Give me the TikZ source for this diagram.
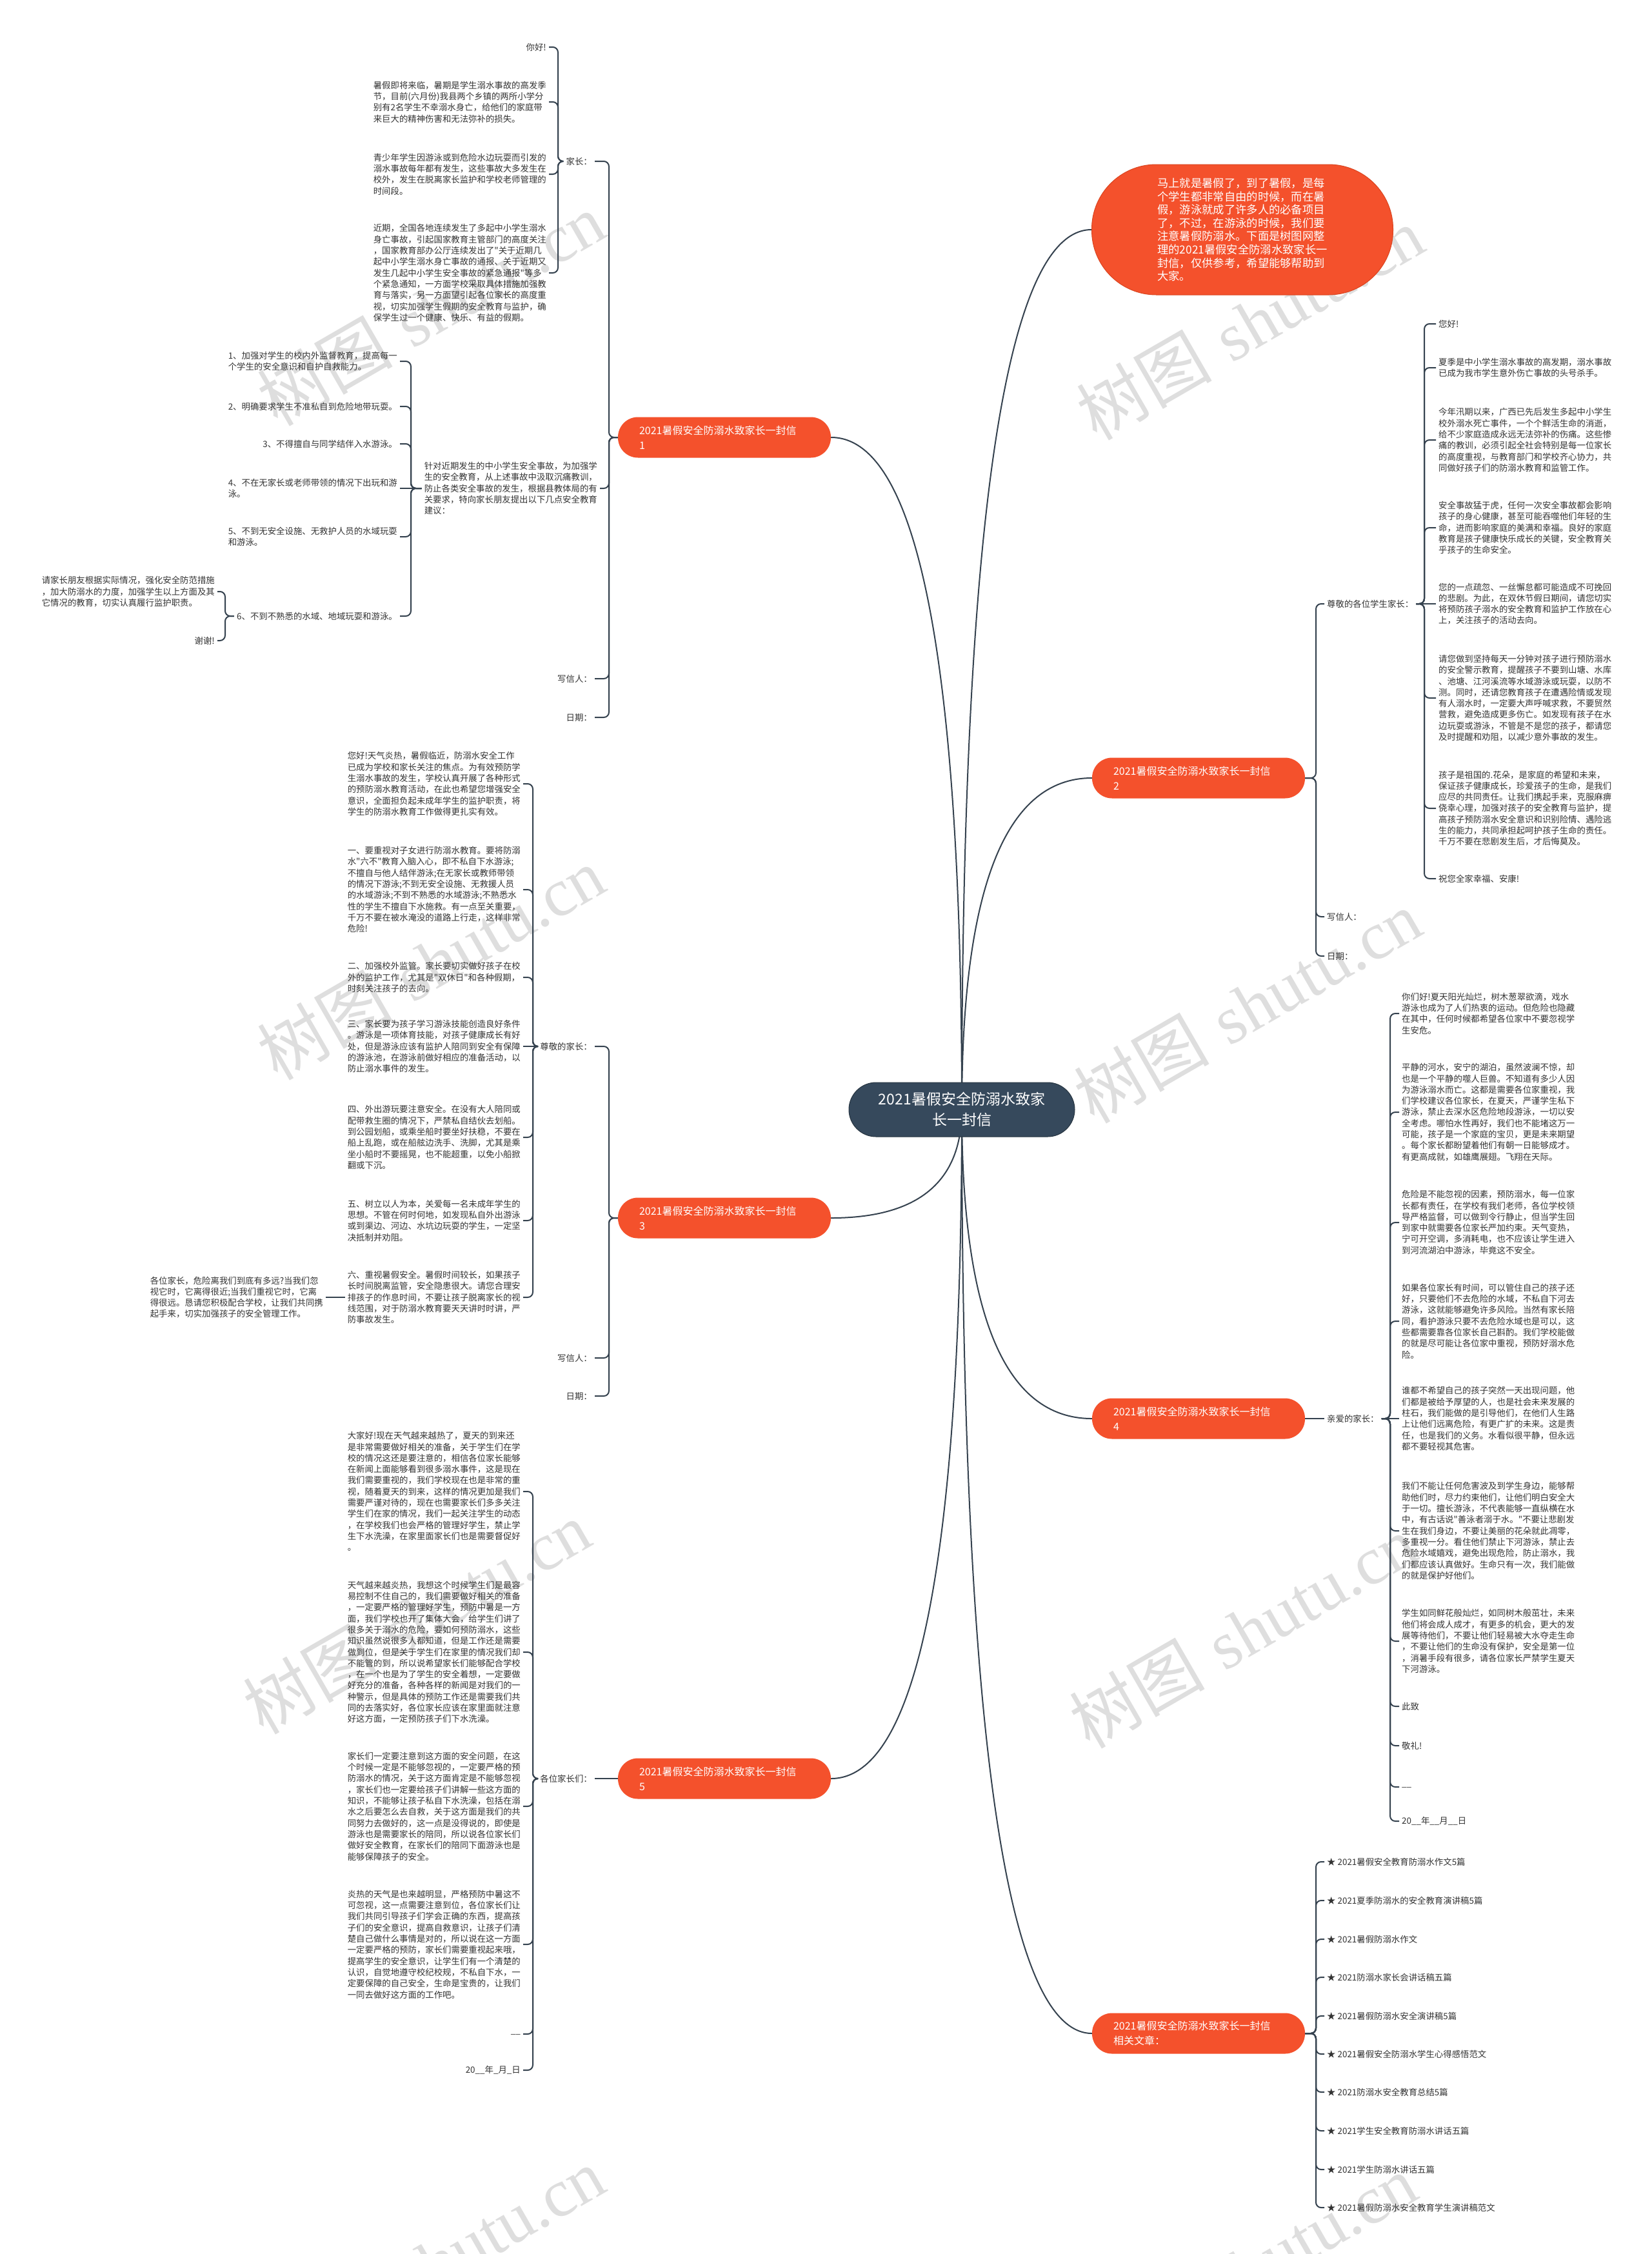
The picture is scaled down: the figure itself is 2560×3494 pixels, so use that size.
\documentclass[tikz,border=0pt]{standalone}
\usepackage{fontspec}
\newfontfamily\cjk{Noto Sans CJK SC}
\newfontfamily\wmserif{Liberation Serif}
\usetikzlibrary{backgrounds}
\definecolor{redc}{HTML}{F4512C}
\definecolor{redline}{HTML}{D9441F}
\definecolor{darkc}{HTML}{36495C}
\definecolor{darkline}{HTML}{25333F}
\definecolor{linec}{HTML}{35424F}
\definecolor{textc}{HTML}{333333}
\definecolor{wmc}{HTML}{DEDEDE}
\newcommand\fbody{\cjk\fontsize{13.4pt}{17.3pt}\selectfont}
\newcommand\brlink[3]{\draw[conn] (#1) -- (#2 |- #1) -- (#2 |- #3) -- (#3);}
\tikzset{
  txt/.style={font=\fbody, text=textc, align=left, inner ysep=0pt, inner xsep=4pt},
  conn/.style={draw=linec, line width=2pt, rounded corners=8pt},
  mainc/.style={draw=linec, line width=2pt},
  branch/.style={fill=redc, text=white, rounded corners=31pt, font={\cjk\fontsize{16pt}{23pt}\selectfont}, align=left, text width=264pt, inner xsep=33pt, inner ysep=8pt, minimum height=63pt},
  centerbox/.style={fill=darkc, draw=darkline, line width=1pt, text=white, rounded corners=42pt, minimum width=350pt, minimum height=84pt, align=center, font={\cjk\fontsize{23pt}{32pt}\selectfont}},
  bubble/.style={fill=redc, draw=redline, line width=1pt, text=white, rounded corners=100pt, minimum width=467pt, minimum height=202pt, align=left, font={\cjk\fontsize{17.3pt}{20.6pt}\selectfont}},
  wm/.style={text=wmc, rotate=30, inner sep=0pt, font={\fontsize{105pt}{105pt}\selectfont}}
}
\begin{document}
\begin{tikzpicture}[x=1pt,y=-1pt]
\useasboundingbox (0,0) rectangle (2560,3494);

% ---------- centre, intro and branches ----------
\node[centerbox] (c) at (1491,1720) {2021暑假安全防溺水致家\\长一封信};
\node[bubble] (bub) at (1926,356) {马上就是暑假了，到了暑假，是每\\个学生都非常自由的时候，而在暑\\假，游泳就成了许多人的必备项目\\了，不过，在游泳的时候，我们要\\注意暑假防溺水。下面是树图网整\\理的2021暑假安全防溺水致家长一\\封信，仅供参考，希望能够帮助到\\大家。};
\node[branch] (b1) at (1123,678) {2021暑假安全防溺水致家长一封信\\1};
\node[branch] (b2) at (1858,1206) {2021暑假安全防溺水致家长一封信\\2};
\node[branch] (b3) at (1123,1888) {2021暑假安全防溺水致家长一封信\\3};
\node[branch] (b4) at (1858,2199) {2021暑假安全防溺水致家长一封信\\4};
\node[branch] (b5) at (1123,2757) {2021暑假安全防溺水致家长一封信\\5};
\node[branch] (b6) at (1858,3152) {2021暑假安全防溺水致家长一封信\\相关文章：};

% ---------- branch 1 ----------
\coordinate (k1) at (944,0);
\coordinate (k1a) at (865,0);
\coordinate (k1b) at (637,0);
\coordinate (k1c) at (349,0);
\node[txt,anchor=east] (n1a) at (922,250) {家长：};
\node[txt,anchor=east] (n1b) at (930,757) {针对近期发生的中小学生安全事故，为加强学\\生的安全教育，从上述事故中汲取沉痛教训，\\防止各类安全事故的发生，根据县教体局的有\\关要求，特向家长朋友提出以下几点安全教育\\建议：};
\node[txt,anchor=east] (n1c) at (922,1052) {写信人：};
\node[txt,anchor=east] (n1d) at (922,1112) {日期：};
\node[txt,anchor=east] (n1a1) at (851,73) {你好!};
\node[txt,anchor=east] (n1a2) at (851,158) {暑假即将来临，暑期是学生溺水事故的高发季\\节，目前(六月份)我县两个乡镇的两所小学分\\别有2名学生不幸溺水身亡，给他们的家庭带\\来巨大的精神伤害和无法弥补的损失。};
\node[txt,anchor=east] (n1a3) at (851,270) {青少年学生因游泳或到危险水边玩耍而引发的\\溺水事故每年都有发生，这些事故大多发生在\\校外，发生在脱离家长监护和学校老师管理的\\时间段。};
\node[txt,anchor=east] (n1a4) at (851,423) {近期，全国各地连续发生了多起中小学生溺水\\身亡事故，引起国家教育主管部门的高度关注\\，国家教育部办公厅连续发出了"关于近期几\\起中小学生溺水身亡事故的通报、关于近期又\\发生几起中小学生安全事故的紧急通报"等多\\个紧急通知，一方面学校采取具体措施加强教\\育与落实，另一方面望引起各位家长的高度重\\视，切实加强学生假期的安全教育与监护，确\\保学生过一个健康、快乐、有益的假期。};
\node[txt,anchor=east] (i1) at (620,560) {1、加强对学生的校内外监督教育，提高每一\\个学生的安全意识和自护自救能力。};
\node[txt,anchor=east] (i2) at (620,630) {2、明确要求学生不准私自到危险地带玩耍。};
\node[txt,anchor=east] (i3) at (620,688) {3、不得擅自与同学结伴入水游泳。};
\node[txt,anchor=east] (i4) at (620,757) {4、不在无家长或老师带领的情况下出玩和游\\泳。};
\node[txt,anchor=east] (i5) at (620,832) {5、不到无安全设施、无救护人员的水域玩耍\\和游泳。};
\node[txt,anchor=east] (i6) at (620,955) {6、不到不熟悉的水域、地域玩耍和游泳。};
\node[txt,anchor=east] (j1) at (337,917) {请家长朋友根据实际情况，强化安全防范措施\\，加大防溺水的力度，加强学生以上方面及其\\它情况的教育，切实认真履行监护职责。};
\node[txt,anchor=east] (j2) at (337,993) {谢谢!};

% ---------- branch 3 ----------
\coordinate (k3) at (944,0);
\coordinate (k3a) at (826,0);
\node[txt,anchor=east] (n3a) at (922,1622) {尊敬的家长：};
\node[txt,anchor=east] (n3b) at (922,2105) {写信人：};
\node[txt,anchor=east] (n3c) at (922,2164) {日期：};
\node[txt,anchor=east] (p1) at (811,1215) {您好!天气炎热，暑假临近，防溺水安全工作\\已成为学校和家长关注的焦点。为有效预防学\\生溺水事故的发生，学校认真开展了各种形式\\的预防溺水教育活动，在此也希望您增强安全\\意识，全面担负起未成年学生的监护职责，将\\学生的防溺水教育工作做得更扎实有效。};
\node[txt,anchor=east] (p2) at (811,1379) {一、要重视对子女进行防溺水教育。要将防溺\\水"六不"教育入脑入心，即不私自下水游泳;\\不擅自与他人结伴游泳;在无家长或教师带领\\的情况下游泳;不到无安全设施、无救援人员\\的水域游泳;不到不熟悉的水域游泳;不熟悉水\\性的学生不擅自下水施救。有一点至关重要，\\千万不要在被水淹没的道路上行走，这样非常\\危险!};
\node[txt,anchor=east] (p3) at (811,1515) {二、加强校外监管。家长要切实做好孩子在校\\外的监护工作，尤其是"双休日"和各种假期，\\时刻关注孩子的去向。};
\node[txt,anchor=east] (p4) at (811,1622) {三、家长要为孩子学习游泳技能创造良好条件\\。游泳是一项体育技能，对孩子健康成长有好\\处，但是游泳应该有监护人陪同到安全有保障\\的游泳池，在游泳前做好相应的准备活动，以\\防止溺水事件的发生。};
\node[txt,anchor=east] (p5) at (811,1763) {四、外出游玩要注意安全。在没有大人陪同或\\配带救生圈的情况下，严禁私自结伙去划船。\\到公园划船，或乘坐船时要坐好扶稳，不要在\\船上乱跑，或在船舷边洗手、洗脚，尤其是乘\\坐小船时不要摇晃，也不能超重，以免小船掀\\翻或下沉。};
\node[txt,anchor=east] (p6) at (811,1892) {五、树立以人为本，关爱每一名未成年学生的\\思想。不管在何时何地，如发现私自外出游泳\\或到渠边、河边、水坑边玩耍的学生，一定坚\\决抵制并劝阻。};
\node[txt,anchor=east] (p7) at (811,2011) {六、重视暑假安全。暑假时间较长，如果孩子\\长时间脱离监管，安全隐患很大。请您合理安\\排孩子的作息时间，不要让孩子脱离家长的视\\线范围，对于防溺水教育要天天讲时时讲，严\\防事故发生。};
\node[txt,anchor=east] (q1) at (505,2011) {各位家长，危险离我们到底有多远?当我们忽\\视它时，它离得很近;当我们重视它时，它离\\得很远。恳请您积极配合学校，让我们共同携\\起手来，切实加强孩子的安全管理工作。};

% ---------- branch 5 ----------
\coordinate (k5a) at (826,0);
\node[txt,anchor=east] (n5a) at (922,2757) {各位家长们：};
\node[txt,anchor=east] (r1) at (811,2312) {大家好!现在天气越来越热了，夏天的到来还\\是非常需要做好相关的准备，关于学生们在学\\校的情况这还是要注意的，相信各位家长能够\\在新闻上面能够看到很多溺水事件，这是现在\\我们需要重视的，我们学校现在也是非常的重\\视，随着夏天的到来，这样的情况更加是我们\\需要严谨对待的，现在也需要家长们多多关注\\学生们在家的情况，我们一起关注学生的动态\\，在学校我们也会严格的管理好学生，禁止学\\生下水洗澡，在家里面家长们也是需要督促好\\。};
\node[txt,anchor=east] (r2) at (811,2561) {天气越来越炎热，我想这个时候学生们是最容\\易控制不住自己的，我们需要做好相关的准备\\，一定要严格的管理好学生，预防中暑是一方\\面，我们学校也开了集体大会，给学生们讲了\\很多关于溺水的危险，要如何预防溺水，这些\\知识虽然说很多人都知道，但是工作还是需要\\做到位，但是关于学生们在家里的情况我们却\\不能管的到，所以说希望家长们能够配合学校\\，在一个也是为了学生的安全着想，一定要做\\好充分的准备，各种各样的新闻是对我们的一\\种警示，但是具体的预防工作还是需要我们共\\同的去落实好，各位家长应该在家里面就注意\\好这方面，一定预防孩子们下水洗澡。};
\node[txt,anchor=east] (r3) at (811,2800) {家长们一定要注意到这方面的安全问题，在这\\个时候一定是不能够忽视的，一定要严格的预\\防溺水的情况，关于这方面肯定是不能够忽视\\，家长们也一定要给孩子们讲解一些这方面的\\知识，不能够让孩子私自下水洗澡，包括在溺\\水之后要怎么去自救，关于这方面是我们的共\\同努力去做好的，这一点是没得说的，即使是\\游泳也是需要家长的陪同，所以说各位家长们\\做好安全教育，在家长们的陪同下面游泳也是\\能够保障孩子的安全。};
\node[txt,anchor=east] (r4) at (811,3014) {炎热的天气是也来越明显，严格预防中暑这不\\可忽视，这一点需要注意到位，各位家长们让\\我们共同引导孩子们学会正确的东西，提高孩\\子们的安全意识，提高自救意识，让孩子们清\\楚自己做什么事情是对的，所以说在这一方面\\一定要严格的预防，家长们需要重视起来哦，\\提高学生的安全意识，让学生们有一个清楚的\\认识，自觉地遵守校纪校规，不私自下水，一\\定要保障的自己安全，生命是宝贵的，让我们\\一同去做好这方面的工作吧。};
\node[txt,anchor=east] (r5) at (811,3153) {\_\_};
\node[txt,anchor=east] (r6) at (811,3209) {20\_\_年\_月\_日};

% ---------- branch 2 ----------
\coordinate (k2) at (2040,0);
\coordinate (k2a) at (2208,0);
\node[txt,anchor=west] (m1) at (2053,936) {尊敬的各位学生家长：};
\node[txt,anchor=west] (m2) at (2053,1421) {写信人：};
\node[txt,anchor=west] (m3) at (2053,1482) {日期：};
\node[txt,anchor=west] (s1) at (2226,502) {您好!};
\node[txt,anchor=west] (s2) at (2226,570) {夏季是中小学生溺水事故的高发期，溺水事故\\已成为我市学生意外伤亡事故的头号杀手。};
\node[txt,anchor=west] (s3) at (2226,682) {今年汛期以来，广西已先后发生多起中小学生\\校外溺水死亡事件，一个个鲜活生命的消逝，\\给不少家庭造成永远无法弥补的伤痛。这些惨\\痛的教训，必须引起全社会特别是每一位家长\\的高度重视，与教育部门和学校齐心协力，共\\同做好孩子们的防溺水教育和监管工作。};
\node[txt,anchor=west] (s4) at (2226,818) {安全事故猛于虎，任何一次安全事故都会影响\\孩子的身心健康，甚至可能吞噬他们年轻的生\\命，进而影响家庭的美满和幸福。良好的家庭\\教育是孩子健康快乐成长的关键，安全教育关\\乎孩子的生命安全。};
\node[txt,anchor=west] (s5) at (2226,936) {您的一点疏忽、一丝懈怠都可能造成不可挽回\\的悲剧。为此，在双休节假日期间，请您切实\\将预防孩子溺水的安全教育和监护工作放在心\\上，关注孩子的活动去向。};
\node[txt,anchor=west] (s6) at (2226,1082) {请您做到坚持每天一分钟对孩子进行预防溺水\\的安全警示教育，提醒孩子不要到山塘、水库\\、池塘、江河溪流等水域游泳或玩耍，以防不\\测。同时，还请您教育孩子在遭遇险情或发现\\有人溺水时，一定要大声呼喊求救，不要贸然\\营救，避免造成更多伤亡。如发现有孩子在水\\边玩耍或游泳，不管是不是您的孩子，都请您\\及时提醒和劝阻，以减少意外事故的发生。};
\node[txt,anchor=west] (s7) at (2226,1253) {孩子是祖国的.花朵，是家庭的希望和未来，\\保证孩子健康成长，珍爱孩子的生命，是我们\\应尽的共同责任。让我们携起手来，克服麻痹\\侥幸心理，加强对孩子的安全教育与监护，提\\高孩子预防溺水安全意识和识别险情、遇险逃\\生的能力，共同承担起呵护孩子生命的责任。\\千万不要在悲剧发生后，才后悔莫及。};
\node[txt,anchor=west] (s8) at (2226,1362) {祝您全家幸福、安康!};

% ---------- branch 4 ----------
\coordinate (k4a) at (2155,0);
\node[txt,anchor=west] (n4a) at (2053,2199) {亲爱的家长：};
\node[txt,anchor=west] (t1) at (2169,1571) {你们好!夏天阳光灿烂，树木葱翠欲滴，戏水\\游泳也成为了人们热衷的运动。但危险也隐藏\\在其中，任何时候都希望各位家中不要忽视学\\生安危。};
\node[txt,anchor=west] (t2) at (2169,1724) {平静的河水，安宁的湖泊，虽然波澜不惊，却\\也是一个平静的噬人巨兽。不知道有多少人因\\为游泳溺水而亡。这都是需要各位家重视，我\\们学校建议各位家长，在夏天，严谨学生私下\\游泳，禁止去深水区危险地段游泳，一切以安\\全考虑。哪怕水性再好，我们也不能堵这万一\\可能，孩子是一个家庭的宝贝，更是未来期望\\。每个家长都盼望着他们有朝一日能够成才。\\有更高成就，如雄鹰展翅。飞翔在天际。};
\node[txt,anchor=west] (t3) at (2169,1895) {危险是不能忽视的因素，预防溺水，每一位家\\长都有责任，在学校有我们老师，各位学校领\\导严格监督，可以做到令行静止，但当学生回\\到家中就需要各位家长严加约束。天气变热，\\宁可开空调，多消耗电，也不应该让学生进入\\到河流湖泊中游泳，毕竟这不安全。};
\node[txt,anchor=west] (t4) at (2169,2048) {如果各位家长有时间，可以管住自己的孩子还\\好，只要他们不去危险的水域，不私自下河去\\游泳，这就能够避免许多风险。当然有家长陪\\同，看护游泳只要不去危险水域也是可以，这\\些都需要靠各位家长自己斟酌。我们学校能做\\的就是尽可能让各位家中重视，预防好溺水危\\险。};
\node[txt,anchor=west] (t5) at (2169,2199) {谁都不希望自己的孩子突然一天出现问题，他\\们都是被给予厚望的人，也是社会未来发展的\\柱石，我们能做的是引导他们，在他们人生路\\上让他们远离危险，有更广扩的未来。这是责\\任，也是我们的义务。水看似很平静，但永远\\都不要轻视其危害。};
\node[txt,anchor=west] (t6) at (2169,2373) {我们不能让任何危害波及到学生身边，能够帮\\助他们时，尽力约束他们，让他们明白安全大\\于一切。擅长游泳，不代表能够一直纵横在水\\中，有古话说"善泳者溺于水。"不要让悲剧发\\生在我们身边，不要让美丽的花朵就此凋零，\\多重视一分。看住他们禁止下河游泳，禁止去\\危险水域嬉戏，避免出现危险，防止溺水，我\\们都应该认真做好。生命只有一次，我们能做\\的就是保护好他们。};
\node[txt,anchor=west] (t7) at (2169,2544) {学生如同鲜花般灿烂，如同树木般茁壮，未来\\他们将会成人成才，有更多的机会，更大的发\\展等待他们，不要让他们轻易被大水夺走生命\\，不要让他们的生命没有保护，安全是第一位\\，消暑手段有很多，请各位家长严禁学生夏天\\下河游泳。};
\node[txt,anchor=west] (t8) at (2169,2645) {此致};
\node[txt,anchor=west] (t9) at (2169,2706) {敬礼!};
\node[txt,anchor=west] (t10) at (2169,2770) {\_\_};
\node[txt,anchor=west] (t11) at (2169,2823) {20\_\_年\_\_月\_\_日};

% ---------- branch 6 ----------
\coordinate (k6) at (2040,0);
\node[txt,anchor=west] (u1) at (2053,2886) {★ 2021暑假安全教育防溺水作文5篇};
\node[txt,anchor=west] (u2) at (2053,2946) {★ 2021夏季防溺水的安全教育演讲稿5篇};
\node[txt,anchor=west] (u3) at (2053,3006) {★ 2021暑假防溺水作文};
\node[txt,anchor=west] (u4) at (2053,3065) {★ 2021防溺水家长会讲话稿五篇};
\node[txt,anchor=west] (u5) at (2053,3125) {★ 2021暑假防溺水安全演讲稿5篇};
\node[txt,anchor=west] (u6) at (2053,3184) {★ 2021暑假安全防溺水学生心得感悟范文};
\node[txt,anchor=west] (u7) at (2053,3243) {★ 2021防溺水安全教育总结5篇};
\node[txt,anchor=west] (u8) at (2053,3303) {★ 2021学生安全教育防溺水讲话五篇};
\node[txt,anchor=west] (u9) at (2053,3363) {★ 2021学生防溺水讲话五篇};
\node[txt,anchor=west] (u10) at (2053,3422) {★ 2021暑假防溺水安全教育学生演讲稿范文};

% ---------- background: watermark and main connectors ----------
\begin{pgfonlayer}{background}
\fill[white] (0,0) rectangle (2560,3494);
\node[wm] (wm1) at (668,479) {{\cjk 树图} {\wmserif shutu.cn}};
\node[wm] (wm2) at (1938,501) {{\cjk 树图} {\wmserif shutu.cn}};
\node[wm] (wm3) at (668,1493) {{\cjk 树图} {\wmserif shutu.cn}};
\node[wm] (wm4) at (1934,1560) {{\cjk 树图} {\wmserif shutu.cn}};
\node[wm] (wm5) at (646,2507) {{\cjk 树图} {\wmserif shutu.cn}};
\node[wm] (wm6) at (1927,2529) {{\cjk 树图} {\wmserif shutu.cn}};
\node[wm] (wm7) at (668,3509) {{\cjk 树图} {\wmserif shutu.cn}};
\node[wm] (wm8) at (1927,3520) {{\cjk 树图} {\wmserif shutu.cn}};
\draw[mainc] (b1.east) .. controls (1423.3,678) and (1491,1025.3) .. (c.center);
\draw[mainc] (b3.east) .. controls (1423.3,1888) and (1491,1832) .. (c.center);
\draw[mainc] (b5.east) .. controls (1423.3,2757) and (1491,2411.3) .. (c.center);
\draw[mainc] (bub.west) .. controls (1558.3,356) and (1491,810.7) .. (c.center);
\draw[mainc] (b2.west) .. controls (1558.3,1206) and (1491,1377.3) .. (c.center);
\draw[mainc] (b4.west) .. controls (1558.3,2199) and (1491,2039.3) .. (c.center);
\draw[mainc] (b6.west) .. controls (1558.3,3152) and (1491,2674.7) .. (c.center);
\end{pgfonlayer}

% ---------- bracket links ----------
\brlink{b1.west}{k1}{n1a.east}
\brlink{b1.west}{k1}{n1b.east}
\brlink{b1.west}{k1}{n1c.east}
\brlink{b1.west}{k1}{n1d.east}
\brlink{n1a.west}{k1a}{n1a1.east}
\brlink{n1a.west}{k1a}{n1a2.east}
\brlink{n1a.west}{k1a}{n1a3.east}
\brlink{n1a.west}{k1a}{n1a4.east}
\brlink{n1b.west}{k1b}{i1.east}
\brlink{n1b.west}{k1b}{i2.east}
\brlink{n1b.west}{k1b}{i3.east}
\draw[conn] (n1b.west) -- (i4.east);
\brlink{n1b.west}{k1b}{i5.east}
\brlink{n1b.west}{k1b}{i6.east}
\brlink{i6.west}{k1c}{j1.east}
\brlink{i6.west}{k1c}{j2.east}

\brlink{b3.west}{k3}{n3a.east}
\brlink{b3.west}{k3}{n3b.east}
\brlink{b3.west}{k3}{n3c.east}
\brlink{n3a.west}{k3a}{p1.east}
\brlink{n3a.west}{k3a}{p2.east}
\brlink{n3a.west}{k3a}{p3.east}
\draw[conn] (n3a.west) -- (p4.east);
\brlink{n3a.west}{k3a}{p5.east}
\brlink{n3a.west}{k3a}{p6.east}
\brlink{n3a.west}{k3a}{p7.east}
\draw[conn] (p7.west) -- (q1.east);

\draw[conn] (b5.west) -- (n5a.east);
\brlink{n5a.west}{k5a}{r1.east}
\brlink{n5a.west}{k5a}{r2.east}
\brlink{n5a.west}{k5a}{r3.east}
\brlink{n5a.west}{k5a}{r4.east}
\brlink{n5a.west}{k5a}{r5.east}
\brlink{n5a.west}{k5a}{r6.east}

\brlink{b2.east}{k2}{m1.west}
\brlink{b2.east}{k2}{m2.west}
\brlink{b2.east}{k2}{m3.west}
\brlink{m1.east}{k2a}{s1.west}
\brlink{m1.east}{k2a}{s2.west}
\brlink{m1.east}{k2a}{s3.west}
\brlink{m1.east}{k2a}{s4.west}
\draw[conn] (m1.east) -- (s5.west);
\brlink{m1.east}{k2a}{s6.west}
\brlink{m1.east}{k2a}{s7.west}
\brlink{m1.east}{k2a}{s8.west}

\draw[conn] (b4.east) -- (n4a.west);
\brlink{n4a.east}{k4a}{t1.west}
\brlink{n4a.east}{k4a}{t2.west}
\brlink{n4a.east}{k4a}{t3.west}
\brlink{n4a.east}{k4a}{t4.west}
\draw[conn] (n4a.east) -- (t5.west);
\brlink{n4a.east}{k4a}{t6.west}
\brlink{n4a.east}{k4a}{t7.west}
\brlink{n4a.east}{k4a}{t8.west}
\brlink{n4a.east}{k4a}{t9.west}
\brlink{n4a.east}{k4a}{t10.west}
\brlink{n4a.east}{k4a}{t11.west}

\brlink{b6.east}{k6}{u1.west}
\brlink{b6.east}{k6}{u2.west}
\brlink{b6.east}{k6}{u3.west}
\brlink{b6.east}{k6}{u4.west}
\brlink{b6.east}{k6}{u5.west}
\brlink{b6.east}{k6}{u6.west}
\brlink{b6.east}{k6}{u7.west}
\brlink{b6.east}{k6}{u8.west}
\brlink{b6.east}{k6}{u9.west}
\brlink{b6.east}{k6}{u10.west}
\end{tikzpicture}
\end{document}
